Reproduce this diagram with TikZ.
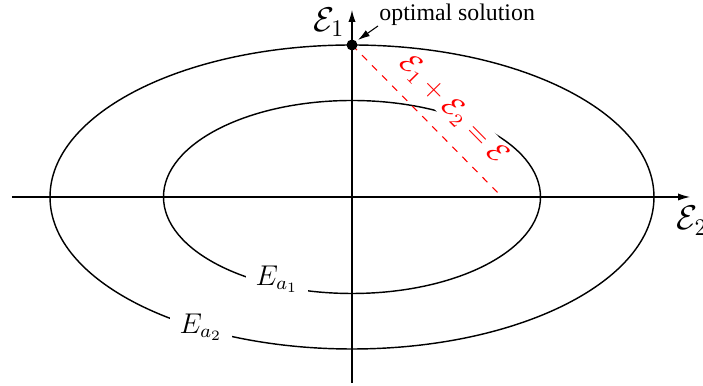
\documentclass[tikz,border=0pt]{standalone}
\usepackage[no-math]{fontspec}
\setmainfont{Liberation Serif}
\usetikzlibrary{arrows.meta}
\begin{document}
\begin{tikzpicture}[x=0.42pt,y=-0.42pt,
  axis/.style={line width=0.45pt,-{Latex[length=5pt,width=3pt]}},
  ell/.style={line width=0.6pt},
  lab/.style={fill=white,inner sep=4pt,font=\large},
  eqlab/.style={red,font=\large,fill=white,inner sep=0.5pt}]
\useasboundingbox (0,0) rectangle (703,386);
% ellipses
\draw[ell] (352,197) ellipse [x radius=302, y radius=152];
\draw[ell] (352,197) ellipse [x radius=188.5, y radius=96.5];
% labels on ellipses
\node[lab] (ea1) at (277,279) {$E_{a_1}$};
\node[lab] (ea2) at (201,327) {$E_{a_2}$};
% axes
\coordinate (xs) at (12,197);
\coordinate (xe) at (690,197);
\coordinate (ys) at (352,383);
\coordinate (ye) at (352,10);
\draw[axis] (xs) -- (xe);
\draw[axis] (ys) -- (ye);
\node[font=\Large,anchor=north west,inner sep=0pt] (e2) at (676,206) {$\mathcal{E}_2$};
\node[font=\Large,anchor=east,inner sep=0pt] (e1) at (345,22) {$\mathcal{E}_1$};
% optimal point and constraint
\coordinate (opt) at (352,45);
\coordinate (xi) at (502,197);
\draw[red,dashed,line width=0.45pt] (opt) -- node[eqlab,sloped,above=5.5pt,pos=0.55] (eq) {$\mathcal{E}_1+\mathcal{E}_2=\mathcal{E}$} (xi);
\fill (opt) circle [radius=5.5];
\node[anchor=west,inner sep=0pt] (os) at (379,15) {optimal solution};
\coordinate (osa) at (378,26);
\coordinate (opta) at (358,40);
\draw[-{Latex[length=5pt,width=3pt]},line width=0.45pt] (osa) -- (opta);
\end{tikzpicture}
\end{document}
